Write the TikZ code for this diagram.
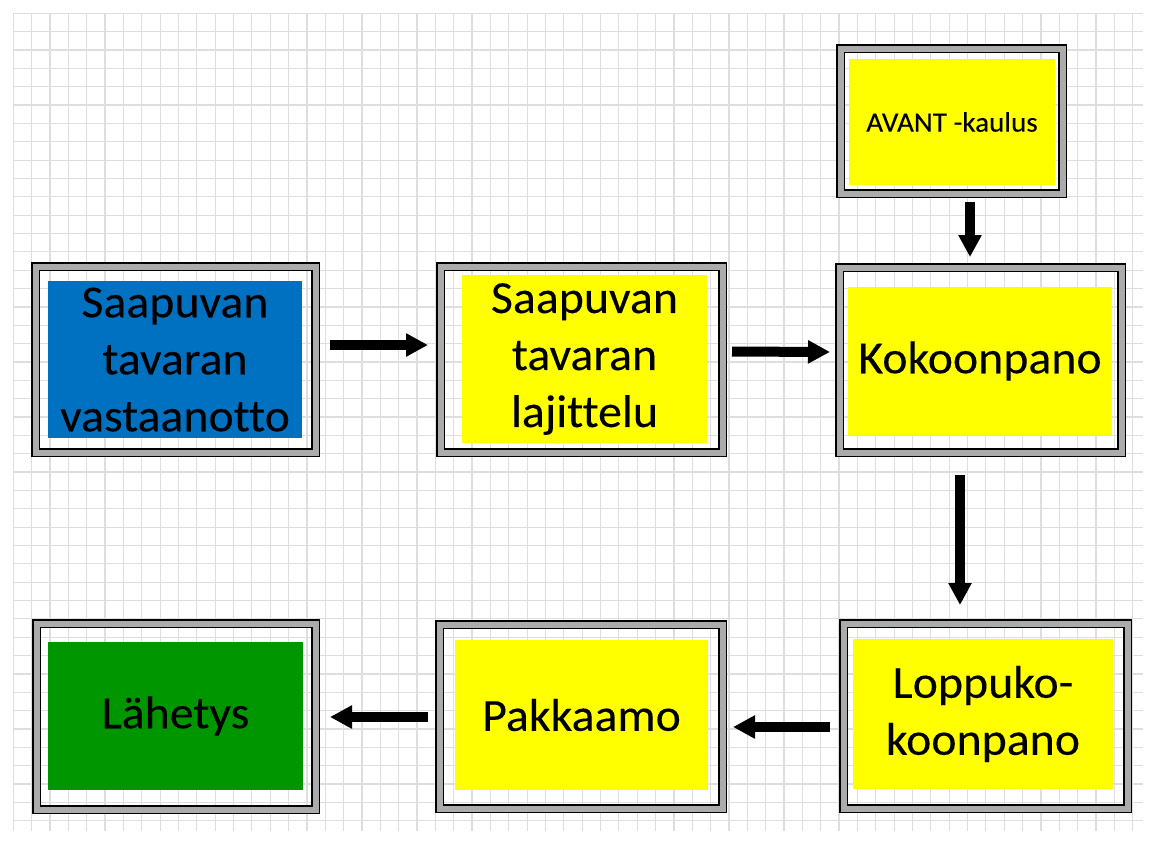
\documentclass[tikz,border=0pt]{standalone}
\usepackage{fontspec}
\setmainfont{Carlito}[Ligatures=NoCommon, FakeStretch=1.04, FakeBold=0.15]
\usetikzlibrary{arrows.meta}

\definecolor{boxblue}{RGB}{0,112,192}
\definecolor{boxgreen}{RGB}{0,150,0}
\definecolor{boxyellow}{RGB}{255,255,0}

\begin{document}
\begin{tikzpicture}[x=1pt, y=-1pt,
    gridline/.style={draw=black!13, line width=1.2pt},
    frame/.style={draw=black, line width=1.5pt, double=black!33, double distance=6pt,
      outer sep=4.5pt, inner sep=0pt},
    stage/.style={inner sep=0pt, align=center, font=\fontsize{46}{57}\selectfont},
    arr/.style={line width=10pt, -{Triangle[width=22pt,length=22pt]}}]
  \useasboundingbox (0,0) rectangle (1156,844);
  % grid
  \foreach \i in {0,...,61}
    \draw[gridline] ({13.3+18.35*\i},13) -- ({13.3+18.35*\i},831);
  \foreach \j in {0,...,44}
    \draw[gridline] (13,{13.3+18.35*\j}) -- (1143,{13.3+18.35*\j});

  % frames
  \node[frame, minimum width=280pt, minimum height=186pt] (f1) at (175.5,359.5) {};
  \node[frame, minimum width=282pt, minimum height=186pt] (f2) at (581.5,359.5) {};
  \node[frame, minimum width=282pt, minimum height=185pt] (f3) at (980.5,360) {};
  \node[frame, minimum width=222pt, minimum height=145pt] (f4) at (951.5,121) {};
  \node[frame, minimum width=284pt, minimum height=185pt] (f5) at (985.5,716) {};
  \node[frame, minimum width=283pt, minimum height=184pt] (f6) at (581,716.5) {};
  \node[frame, minimum width=279pt, minimum height=186pt] (f7) at (176,716.5) {};

  % stages
  \node[stage, fill=boxblue, minimum width=254pt, minimum height=157pt] (vastaanotto) at (175,359.5)
    {Saapuvan\\tavaran\\vastaanotto};
  \node[stage, fill=boxyellow, minimum width=245pt, minimum height=168pt] (lajittelu) at (584.5,359)
    {Saapuvan\\tavaran\\lajittelu};
  \node[stage, fill=boxyellow, minimum width=264pt, minimum height=148pt] (kokoonpano) at (980,361)
    {Kokoonpano};
  \node[stage, fill=boxyellow, minimum width=206pt, minimum height=126pt,
    font=\fontsize{28}{34}\selectfont] (kaulus) at (952,122) {AVANT -kaulus};
  \node[stage, fill=boxyellow, minimum width=260pt, minimum height=150pt] (loppu) at (983,714)
    {Loppuko-\\koonpano};
  \node[stage, fill=boxyellow, minimum width=253pt, minimum height=150pt] (pakkaamo) at (581.5,715)
    {Pakkaamo};
  \node[stage, fill=boxgreen, minimum width=255pt, minimum height=148pt] (lahetys) at (175.5,716)
    {Lähetys};

  % flow
  \draw[arr, shorten <=10pt, shorten >=8pt] ([yshift=14.5pt]f1.east) -- ([yshift=14.5pt]f2.west);
  \draw[arr, shorten <=5pt, shorten >=5pt] ([yshift=8pt]f2.east) -- ([yshift=8pt]f3.west);
  \draw[arr, shorten <=4pt, shorten >=6pt] ([xshift=18.5pt]f4.south) -- ([xshift=18.5pt]f4.south |- f3.north);
  \draw[arr, shorten <=18pt, shorten >=14pt] ([xshift=-20.5pt]f3.south) -- ([xshift=-20.5pt]f3.south |- f5.north);
  \draw[arr, shorten <=9pt, shorten >=6pt] ([yshift=-11pt]f5.west) -- ([yshift=-11pt]f5.west -| f6.east);
  \draw[arr, shorten <=7pt, shorten >=10pt] ([yshift=-0.5pt]f6.west) -- ([yshift=-0.5pt]f6.west -| f7.east);
\end{tikzpicture}
\end{document}
